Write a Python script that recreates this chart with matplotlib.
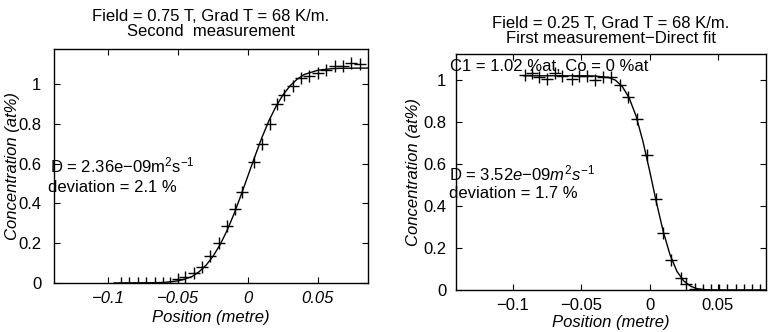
import matplotlib
matplotlib.use("Agg")
import matplotlib.pyplot as plt

plt.rcParams["font.family"] = ["Liberation Sans", "DejaVu Sans"]
plt.rcParams["mathtext.fontset"] = "custom"
plt.rcParams["mathtext.rm"] = "Liberation Sans"
plt.rcParams["mathtext.it"] = "Liberation Sans:italic"

# -------------------------
# Left panel: second measurement (read from picture)
# -------------------------
left_x = [-0.091, -0.085, -0.079, -0.073, -0.067, -0.061, -0.056, -0.050,
          -0.045, -0.039, -0.033, -0.027, -0.021, -0.015, -0.009, -0.004,
          0.004, 0.010, 0.016, 0.021, 0.026, 0.032, 0.038, 0.044, 0.050,
          0.056, 0.062, 0.068, 0.074, 0.080]
left_y = [0.0, 0.0, 0.0, 0.0, 0.0, 0.0, 0.0, 0.02,
          0.03, 0.05, 0.081, 0.137, 0.203, 0.284, 0.37, 0.457,
          0.609, 0.70, 0.80, 0.90, 0.944, 0.99, 1.03, 1.04, 1.056,
          1.07, 1.09, 1.09, 1.105, 1.10]
left_fit_x = [-0.096, -0.07, -0.06, -0.05, -0.045, -0.04, -0.035, -0.03, -0.025,
              -0.02, -0.015, -0.01, -0.005, 0.0, 0.005, 0.01, 0.015, 0.02,
              0.025, 0.03, 0.035, 0.04, 0.05, 0.06, 0.07, 0.086]
left_fit_y = [0.0, 0.001, 0.003, 0.011, 0.02, 0.033, 0.057, 0.09, 0.135,
              0.193, 0.264, 0.348, 0.442, 0.54, 0.638, 0.732, 0.816, 0.887,
              0.945, 0.99, 1.023, 1.047, 1.069, 1.077, 1.079, 1.08]

# -------------------------
# Right panel: first measurement, direct fit
# -------------------------
right_x = [-0.091, -0.086, -0.081, -0.075, -0.069, -0.064, -0.057, -0.052,
           -0.046, -0.040, -0.034, -0.028, -0.022, -0.016, -0.0095, -0.002,
           0.0044, 0.010, 0.016, 0.023, 0.027, 0.033, 0.039, 0.045, 0.051,
           0.057, 0.063, 0.069, 0.075, 0.081]
right_y = [1.024, 1.033, 1.014, 1.005, 1.033, 1.019, 1.005, 1.019,
           1.019, 1.0, 1.014, 1.014, 0.976, 0.92, 0.814, 0.643,
           0.433, 0.27, 0.143, 0.057, 0.03, 0.005, 0.0, 0.0, 0.0,
           0.0, 0.0, 0.0, 0.0, 0.0]
right_fit_x = [-0.092, -0.05, -0.04, -0.03, -0.025, -0.02, -0.015, -0.01, -0.005,
               0.0, 0.005, 0.01, 0.015, 0.02, 0.025, 0.03, 0.035, 0.04, 0.05, 0.086]
right_fit_y = [1.02, 1.02, 1.019, 1.012, 0.999, 0.969, 0.915, 0.83, 0.711,
               0.568, 0.417, 0.278, 0.167, 0.089, 0.043, 0.018, 0.006, 0.002, 0.0, 0.0]

xticks = [-0.1, -0.05, 0, 0.05]
xtick_labels = ["\u22120.1", "\u22120.05", "0", "0.05"]
yticks = [0, 0.2, 0.4, 0.6, 0.8, 1]
ytick_labels = ["0", "0.2", "0.4", "0.6", "0.8", "1"]

fs = 12

fig = plt.figure(figsize=(7.68, 3.32), dpi=100)
ax1 = fig.add_axes([0.0703, 0.1476, 0.409, 0.705])
ax2 = fig.add_axes([0.594, 0.1265, 0.403, 0.711])


def style(ax, xlim, ylim, italic_x, ypad):
    ax.set_xlim(*xlim)
    ax.set_ylim(*ylim)
    ax.set_xticks(xticks)
    ax.set_xticklabels(xtick_labels, fontsize=fs,
                       fontstyle="italic" if italic_x else "normal")
    ax.set_yticks(yticks)
    ax.set_yticklabels(ytick_labels, fontsize=fs)
    ax.tick_params(direction="in", top=True, right=True, length=4, width=0.8)
    ax.tick_params(axis="x", pad=6)
    ax.tick_params(axis="y", pad=ypad)
    for s in ax.spines.values():
        s.set_linewidth(1.0)
    ax.set_xlabel("Position (metre)", fontsize=fs, fontstyle="italic")
    ax.set_ylabel("Concentration (at%)", fontsize=fs, fontstyle="italic")


# left
ax1.plot(left_fit_x, left_fit_y, color="black", lw=1.0)
ax1.plot(left_x, left_y, "+", color="black", ms=8, mew=1.0)
style(ax1, (-0.139, 0.086), (0, 1.176), True, 9)
ax1.set_title("Field = 0.75 T, Grad T = 68 K/m.\nSecond  measurement",
              fontsize=fs, pad=9, linespacing=1.0)
ax1.xaxis.set_label_coords(0.5, -0.115)
ax1.yaxis.set_label_coords(-0.108, 0.5)
ax1.text(-0.142, 0.59, r"D = 2.36e$-$09m$^2$s$^{-1}$", fontsize=fs, va="center")
ax1.text(-0.143, 0.48, "deviation = 2.1 %", fontsize=fs, va="center")

# right
ax2.plot(right_fit_x, right_fit_y, color="black", lw=1.0)
ax2.plot(right_x, right_y, "+", color="black", ms=8, mew=1.0)
style(ax2, (-0.1416, 0.085), (0, 1.124), False, 7)
ax2.set_title("Field = 0.25 T, Grad T = 68 K/m.\nFirst measurement\u2212Direct fit",
              fontsize=fs, pad=8, linespacing=1.0)
ax2.xaxis.set_label_coords(0.5, -0.105)
ax2.yaxis.set_label_coords(-0.113, 0.5)
ax2.text(-0.146, 1.062, "C1 = 1.02 %at, Co = 0 %at", fontsize=fs, va="center")
ax2.text(-0.147, 0.557, r"D = $3.52e{-}09m^2s^{-1}$", fontsize=fs, va="center")
ax2.text(-0.147, 0.46, "deviation = 1.7 %", fontsize=fs, va="center")

fig.savefig("out.png", dpi=100, facecolor="white")
